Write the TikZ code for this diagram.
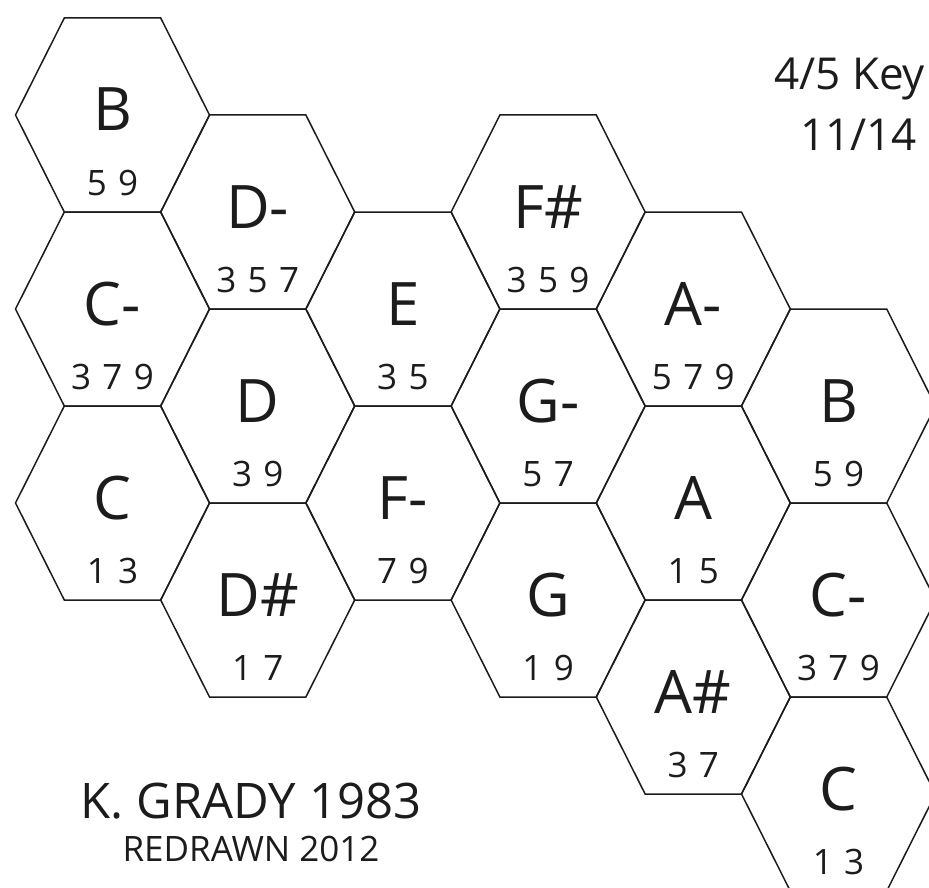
\documentclass[tikz,border=0pt]{standalone}
\usepackage{fontspec}
\setmainfont{Open Sans}
\newfontfamily\tonefont{Open Sans}[WordSpace=1.25]
\definecolor{ink}{HTML}{1C1C1C}
\tikzset{
  hexline/.style={draw=ink,line width=1.5pt,line join=miter},
  chordname/.style={
    anchor=base,
    inner sep=0pt,
    font=\fontsize{60}{60}\selectfont,
    text=ink
  },
  tonelist/.style={
    anchor=base,
    inner sep=0pt,
    font=\tonefont\fontsize{35}{35}\selectfont,
    text=ink
  },
  credit/.style={anchor=base,inner sep=0pt,text=ink},
  pics/hexcell/.style 2 args={
    code={
      \draw[hexline] (-97,0) -- (-48.2,-97) -- (48.2,-97) -- (97,0)
        -- (48.2,97) -- (-48.2,97) -- cycle;
      \node[chordname] (-name) at (0,16) {#1};
      \node[tonelist] (-tones) at (0,80) {#2};
    }
  }
}

\begin{document}
\begin{tikzpicture}[x=1pt,y=-1pt]
  \useasboundingbox (0,0) rectangle (929,888);

  % Columns step 145.2 across, cells step 97 down (y grows downwards).
  \pic (cellBleft) at (112.5,115) {hexcell={B}{5 9}};
  \pic (cellCmleft) at (112.5,309) {hexcell={C-}{3 7 9}};
  \pic (cellCleft) at (112.5,503) {hexcell={C}{1 3}};

  \pic (cellDm) at (257.7,212) {hexcell={D-}{3 5 7}};
  \pic (cellD) at (257.7,406) {hexcell={D}{3 9}};
  \pic (cellDs) at (257.7,600) {hexcell={D\#}{1 7}};

  \pic (cellE) at (402.9,309) {hexcell={E}{3 5}};
  \pic (cellFm) at (402.9,503) {hexcell={F-}{7 9}};

  \pic (cellFs) at (548.1,212) {hexcell={F\#}{3 5 9}};
  \pic (cellGm) at (548.1,406) {hexcell={G-}{5 7}};
  \pic (cellG) at (548.1,600) {hexcell={G}{1 9}};

  \pic (cellAm) at (693.3,309) {hexcell={A-}{5 7 9}};
  \pic (cellA) at (693.3,503) {hexcell={A}{1 5}};
  \pic (cellAs) at (693.3,697) {hexcell={A\#}{3 7}};

  \pic (cellBright) at (838.5,406) {hexcell={B}{5 9}};
  \pic (cellCmright) at (838.5,600) {hexcell={C-}{3 7 9}};
  \pic (cellCright) at (838.5,794) {hexcell={C}{1 3}};

  \node[credit,anchor=base west,font=\fontsize{44}{44}\selectfont]
    (keytitle) at (774,90) {4/5 Key};
  \node[credit,anchor=base west,font=\fontsize{44}{44}\selectfont]
    (keydate) at (800,150) {11/14};

  \node[credit,font=\fontsize{49}{49}\selectfont]
    (author) at (251,818) {K. GRADY 1983};
  \node[credit,font=\fontsize{35}{35}\selectfont]
    (redrawn) at (251,861) {REDRAWN 2012};
\end{tikzpicture}
\end{document}
